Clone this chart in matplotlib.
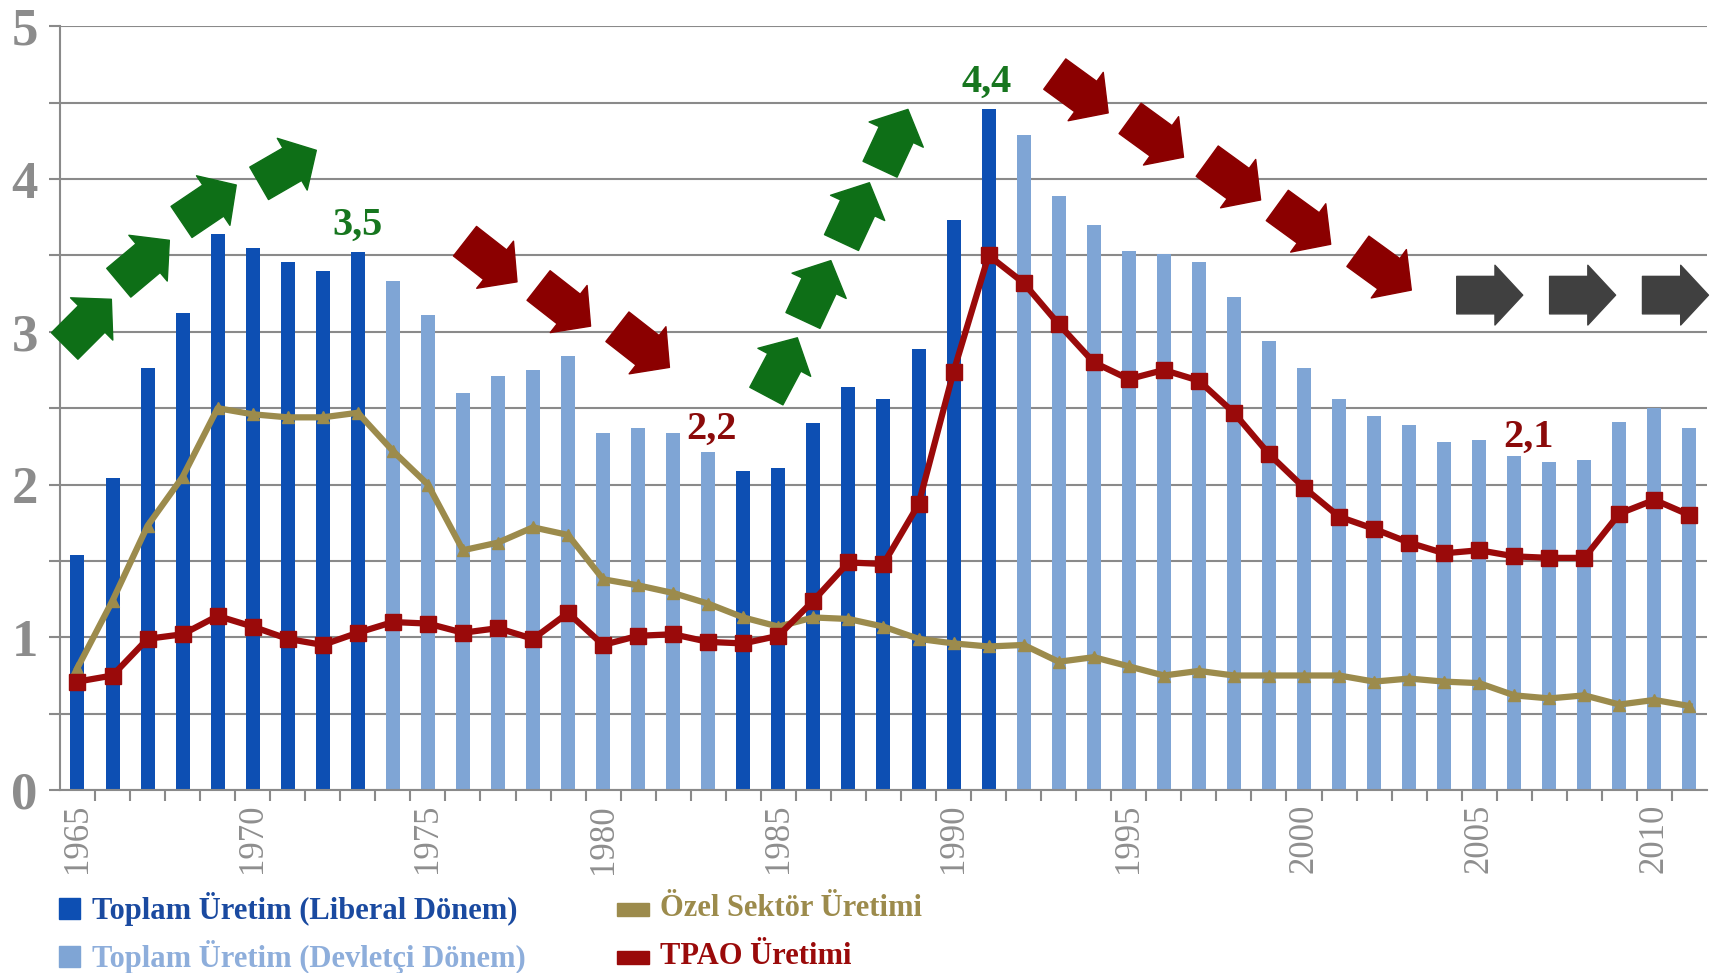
import numpy as np
import matplotlib
matplotlib.use('Agg')
import matplotlib.pyplot as plt
from matplotlib.patches import Rectangle

plt.rcParams['font.family'] = ['Liberation Serif', 'DejaVu Serif']

# data
years = list(range(1965, 2012))
toplam = [1.54, 2.04, 2.76, 3.12, 3.64, 3.55, 3.46, 3.40, 3.52, 3.33,
          3.11, 2.60, 2.71, 2.75, 2.84, 2.34, 2.37, 2.34, 2.21, 2.09,
          2.11, 2.40, 2.64, 2.56, 2.89, 3.73, 4.46, 4.29, 3.89, 3.70,
          3.53, 3.51, 3.46, 3.23, 2.94, 2.76, 2.56, 2.45, 2.39, 2.28,
          2.29, 2.19, 2.15, 2.16, 2.41, 2.50, 2.37]
ozel = [0.80, 1.24, 1.73, 2.05, 2.50, 2.46, 2.44, 2.44, 2.47, 2.22,
        2.00, 1.57, 1.62, 1.72, 1.67, 1.38, 1.34, 1.29, 1.22, 1.13,
        1.07, 1.13, 1.12, 1.07, 0.99, 0.96, 0.94, 0.95, 0.84, 0.87,
        0.81, 0.75, 0.78, 0.75, 0.75, 0.75, 0.75, 0.71, 0.73, 0.71,
        0.70, 0.62, 0.60, 0.62, 0.56, 0.59, 0.55]
tpao = [0.71, 0.75, 0.99, 1.02, 1.14, 1.07, 0.99, 0.95, 1.03, 1.10,
        1.09, 1.03, 1.06, 0.99, 1.16, 0.95, 1.01, 1.02, 0.97, 0.96,
        1.01, 1.24, 1.49, 1.48, 1.87, 2.74, 3.50, 3.32, 3.05, 2.80,
        2.69, 2.75, 2.68, 2.47, 2.20, 1.98, 1.79, 1.71, 1.62, 1.55,
        1.57, 1.53, 1.52, 1.52, 1.81, 1.90, 1.80]
liberal_years = list(range(1965, 1974)) + list(range(1984, 1992))

# labels on top of the chart
peak_labels = [('3,5', 1973.0, 3.70, '#17761f'), ('4,4', 1990.95, 4.63, '#17761f'),
               ('2,2', 1983.1, 2.36, '#8b0a0a'), ('2,1', 2006.4, 2.31, '#8b0a0a')]

# trend arrows: (year, value, angle)
green_arrows = [(1965.3, 3.06, 45), (1966.9, 3.46, 40), (1968.75, 3.84, 34), (1971.0, 4.08, 30),
                (1985.1, 2.77, 62), (1986.1, 3.27, 65), (1987.2, 3.78, 65), (1988.3, 4.26, 65)]
red_arrows = [(1976.8, 3.46, -38), (1978.9, 3.17, -38), (1981.15, 2.90, -38),
              (1993.65, 4.56, -36), (1995.8, 4.27, -36), (1998.0, 3.99, -36),
              (2000.0, 3.70, -36), (2002.3, 3.40, -36)]
gray_arrows = [(2005.3, 3.24, 0), (2007.95, 3.24, 0), (2010.6, 3.24, 0)]

c_lib = '#0d4fb3'
c_dev = '#7fa5d5'
c_ozel = '#9c8b4c'
c_tpao = '#9a0a0a'

fig = plt.figure(figsize=(17.13, 9.73), dpi=100)
ax = fig.add_axes([0.035, 0.188, 0.9615, 0.785])

bar_colors = [c_lib if y in liberal_years else c_dev for y in years]
ax.bar(years, toplam, width=0.4, color=bar_colors, zorder=2)
ax.plot(years, ozel, color=c_ozel, lw=4.5, marker='^', ms=8, mfc=c_ozel, mec=c_ozel, zorder=3)
ax.plot(years, tpao, color=c_tpao, lw=4.5, marker='s', ms=11, mfc=c_tpao, mec=c_tpao, zorder=4)

ax.set_xlim(1964.5, 2011.5)
ax.set_ylim(0, 5)
ax.set_yticks(np.arange(0, 5.01, 0.5))
ax.set_yticklabels(['0', '', '1', '', '2', '', '3', '', '4', '', '5'])
ax.grid(axis='y', color='#8a8a8a', lw=1.5, zorder=1)
ax.set_axisbelow(True)
for s in ['top', 'right']:
    ax.spines[s].set_visible(False)
for s in ['left', 'bottom']:
    ax.spines[s].set_color('#8a8a8a')
    ax.spines[s].set_linewidth(1.5)
ax.tick_params(axis='y', length=8, width=1.5, color='#8a8a8a', pad=8,
               labelsize=38, labelcolor='#8c8c8c')
for t in ax.get_yticklabels():
    t.set_fontweight('bold')

ax.set_xticks(list(range(1965, 2011, 5)))
ax.set_xticklabels([str(y) for y in range(1965, 2011, 5)], rotation=90)
ax.set_xticks([y + 0.5 for y in years[:-1]], minor=True)
ax.tick_params(axis='x', which='major', length=0, pad=10, labelsize=25, labelcolor='#8e8e8e')
ax.tick_params(axis='x', which='minor', length=8, width=1.5, color='#8a8a8a')

for txt, x, y, c in peak_labels:
    ax.text(x, y, txt, ha='center', va='center', fontsize=29, fontweight='bold', color=c, zorder=6)

# block arrows, drawn in pixels around a data anchor
fig.canvas.draw()


def block_arrow(x, y, ang, color, length=66):
    cx, cy = ax.transData.transform((x, y))
    dx = np.cos(np.radians(ang)) * length / 2
    dy = np.sin(np.radians(ang)) * length / 2
    ax.annotate('', xy=(cx + dx, cy + dy), xycoords='figure pixels',
                xytext=(cx - dx, cy - dy), textcoords='figure pixels',
                arrowprops=dict(arrowstyle='simple,head_width=4.3,head_length=2.0,tail_width=2.7',
                                mutation_scale=10, fc=color, ec=color, lw=1,
                                shrinkA=0, shrinkB=0), zorder=7)


for x, y, a in green_arrows:
    block_arrow(x, y, a, '#0e6f17')
for x, y, a in red_arrows:
    block_arrow(x, y, a, '#8b0000')
for x, y, a in gray_arrows:
    block_arrow(x, y, a, '#404040')

# legend drawn by hand in two columns
W, H = 1713.0, 973.0
fig.patches.append(Rectangle((59 / W, 1 - 919 / H), 21 / W, 21 / H, transform=fig.transFigure,
                             color=c_lib, figure=fig))
fig.patches.append(Rectangle((59 / W, 1 - 967 / H), 21 / W, 21 / H, transform=fig.transFigure,
                             color=c_dev, figure=fig))
fig.patches.append(Rectangle((617 / W, 1 - 916 / H), 32 / W, 13 / H, transform=fig.transFigure,
                             color=c_ozel, figure=fig))
fig.patches.append(Rectangle((617 / W, 1 - 964 / H), 32 / W, 13 / H, transform=fig.transFigure,
                             color=c_tpao, figure=fig))
leg = [('Toplam Üretim (Liberal Dönem)', 92, 909, '#1a4aa0'),
       ('Toplam Üretim (Devletçi Dönem)', 92, 957, '#8eaedb'),
       ('Özel Sektör Üretimi', 660, 909, '#9c8b4c'),
       ('TPAO Üretimi', 660, 957, '#9a0a0a')]
for txt, x, y, c in leg:
    fig.text(x / W, 1 - y / H, txt, ha='left', va='center', fontsize=22,
             fontweight='bold', color=c)

fig.savefig('out.png', dpi=100)
